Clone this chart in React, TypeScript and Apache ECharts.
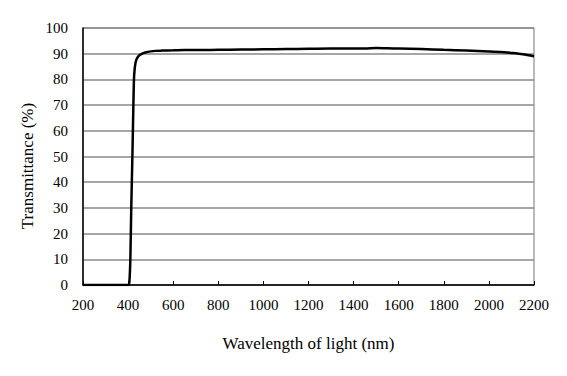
import React, { useEffect, useRef } from "react";
import * as echarts from "echarts";

const wavelengths = [200, 300, 400, 404, 407, 410, 414, 419, 423, 426, 429, 432, 436, 440, 445, 450, 460, 470, 480, 500, 520, 550, 600, 650, 700, 800, 900, 1000, 1100, 1200, 1300, 1400, 1450, 1500, 1550, 1600, 1700, 1800, 1900, 2000, 2050, 2100, 2150, 2200];
const transmittance = [0, 0, 0, 0.2, 3, 10, 30, 50, 68, 80, 84, 86, 87.5, 88.3, 88.9, 89.4, 89.9, 90.3, 90.6, 90.9, 91.1, 91.2, 91.3, 91.4, 91.4, 91.5, 91.6, 91.7, 91.8, 91.9, 92.0, 92.0, 92.0, 92.2, 92.1, 92.0, 91.8, 91.5, 91.2, 90.9, 90.7, 90.3, 89.8, 89.0];

const xTicks = { min: 200, max: 2200, interval: 200 };
const yTicks = { min: 0, max: 100, interval: 10 };

export default function App() {
  const ref = useRef<HTMLDivElement>(null);
  useEffect(() => {
    if (!ref.current) return;
    const chart = echarts.init(ref.current, null, { renderer: "svg" });
    const font = "Liberation Serif, DejaVu Serif, serif";
    chart.setOption({
      animation: false,
      backgroundColor: "#ffffff",
      textStyle: { fontFamily: font },
      grid: {
        left: 83,
        right: 33,
        top: 28,
        bottom: 91,
        show: true,
        borderColor: "#777777",
        borderWidth: 1,
      },
      xAxis: {
        type: "value",
        min: xTicks.min,
        max: xTicks.max,
        interval: xTicks.interval,
        name: "Wavelength of light (nm)",
        nameLocation: "middle",
        nameGap: 50,
        nameTextStyle: { fontFamily: font, fontSize: 17, color: "#000" },
        axisLine: { show: true, lineStyle: { color: "#000", width: 1.5 } },
        axisTick: { show: true, inside: true, length: 4, lineStyle: { color: "#000" } },
        axisLabel: { fontFamily: font, fontSize: 15, color: "#000", margin: 12, formatter: (v: number) => String(v) },
        splitLine: { show: false },
      },
      yAxis: {
        type: "value",
        min: yTicks.min,
        max: yTicks.max,
        interval: yTicks.interval,
        axisLine: { show: true, lineStyle: { color: "#000", width: 1.5 } },
        axisTick: { show: false },
        axisLabel: { fontFamily: font, fontSize: 15, color: "#000", margin: 15, formatter: (v: number) => String(v) },
        splitLine: { show: true, lineStyle: { color: "#888888", width: 1.5 } },
      },
      graphic: [
        {
          type: "text",
          x: 27,
          y: 166,
          rotation: Math.PI / 2,
          style: {
            text: "Transmittance (%)",
            fontFamily: font,
            fontSize: 17,
            fill: "#000",
            align: "center",
            verticalAlign: "middle",
          },
        },
      ],
      series: [
        {
          type: "line",
          data: wavelengths.map((w, i) => [w, transmittance[i]]),
          showSymbol: false,
          smooth: 0.3,
          lineStyle: { color: "#000", width: 2.5 },
        },
      ],
    });
    return () => chart.dispose();
  }, []);
  return <div ref={ref} style={{ position: "fixed", left: 0, top: 0, width: 567, height: 376 }} />;
}
